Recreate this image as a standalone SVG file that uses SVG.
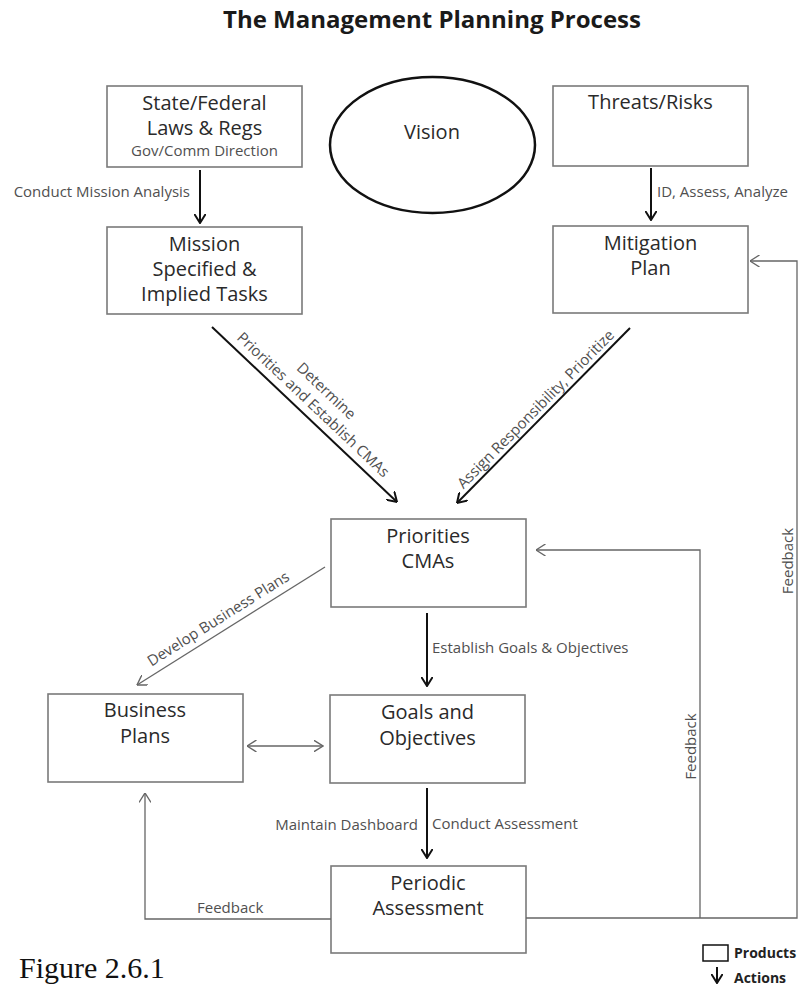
<svg xmlns="http://www.w3.org/2000/svg" width="799" height="986" viewBox="0 0 799 986">
<style>
.box{fill:#fff;stroke:#7a7a7a;stroke-width:1.6}
.bt{font-family:"Open Sans","Noto Sans",sans-serif;font-size:20px;fill:#2a2a2a;text-anchor:middle}
.lb{font-family:"Open Sans","Noto Sans",sans-serif;font-size:15px;fill:#505050}
.main{fill:none;stroke:#111;stroke-width:2;marker-end:url(#ah)}
.thin{fill:none;stroke:#666;stroke-width:1.3}
</style>
<defs>
<marker id="ah" viewBox="0 0 10 12" refX="9.5" refY="6" markerWidth="10" markerHeight="12" markerUnits="userSpaceOnUse" orient="auto">
<path d="M0,0 L9.5,6 L0,12" fill="none" stroke="#111" stroke-width="2"/>
</marker>
<marker id="ag" viewBox="0 0 10 12" refX="9.5" refY="6" markerWidth="10" markerHeight="12" markerUnits="userSpaceOnUse" orient="auto-start-reverse">
<path d="M0,0 L9.5,6 L0,12" fill="none" stroke="#666" stroke-width="1.4"/>
</marker>
</defs>
<rect width="799" height="986" fill="#fff"/>
<text x="432" y="28" font-family="'Open Sans','Noto Sans',sans-serif" font-size="24" font-weight="bold" fill="#1a1a1a" text-anchor="middle">The Management Planning Process</text>

<g id="state">
<rect class="box" x="107" y="86" width="195" height="81"/>
<text class="bt" x="204.5" y="110">State/Federal</text>
<text class="bt" x="204.5" y="135">Laws &amp; Regs</text>
<text class="lb" x="204.5" y="156" text-anchor="middle" font-size="15.5">Gov/Comm Direction</text>
</g>
<g id="vision">
<ellipse cx="432.5" cy="145" rx="102.5" ry="68" fill="none" stroke="#111" stroke-width="2.5"/>
<text class="bt" x="432" y="139">Vision</text>
</g>
<g id="threats">
<rect class="box" x="553" y="86" width="195" height="80"/>
<text class="bt" x="650.5" y="109">Threats/Risks</text>
</g>
<g id="mission">
<rect class="box" x="107" y="227" width="195" height="87"/>
<text class="bt" x="204.5" y="251">Mission</text>
<text class="bt" x="204.5" y="276">Specified &amp;</text>
<text class="bt" x="204.5" y="301">Implied Tasks</text>
</g>
<g id="mitigation">
<rect class="box" x="553" y="226" width="195" height="87"/>
<text class="bt" x="650.5" y="250">Mitigation</text>
<text class="bt" x="650.5" y="275">Plan</text>
</g>
<g id="priorities">
<rect class="box" x="331" y="519" width="195" height="88"/>
<text class="bt" x="428" y="543">Priorities</text>
<text class="bt" x="428" y="568">CMAs</text>
</g>
<g id="business">
<rect class="box" x="48" y="694" width="195" height="88"/>
<text class="bt" x="145" y="717">Business</text>
<text class="bt" x="145" y="743">Plans</text>
</g>
<g id="goals">
<rect class="box" x="330" y="695" width="195" height="88"/>
<text class="bt" x="427.5" y="719">Goals and</text>
<text class="bt" x="427.5" y="745">Objectives</text>
</g>
<g id="periodic">
<rect class="box" x="331" y="866" width="195" height="87"/>
<text class="bt" x="428" y="890">Periodic</text>
<text class="bt" x="428" y="915">Assessment</text>
</g>

<g id="connectors">
<line class="main" x1="200" y1="170" x2="200" y2="223"/>
<text class="lb" x="190" y="197" text-anchor="end">Conduct Mission Analysis</text>
<line class="main" x1="651" y1="168" x2="651" y2="220"/>
<text class="lb" x="657" y="197">ID, Assess, Analyze</text>

<line class="main" x1="212" y1="327" x2="397" y2="502"/>
<g transform="translate(212,327) rotate(43.4)">
<text class="lb" x="127" y="-27" text-anchor="middle" font-size="14.5">Determine</text>
<text class="lb" x="127" y="-8" text-anchor="middle" font-size="14.5">Priorities and Establish CMAs</text>
</g>
<line class="main" x1="630" y1="328" x2="457" y2="503"/>
<g transform="translate(457,503) rotate(-45.3)">
<text class="lb" x="122" y="-5" text-anchor="middle" font-size="14.5">Assign Responsibility, Prioritize</text>
</g>

<line class="thin" x1="325" y1="567" x2="137" y2="685" marker-end="url(#ag)"/>
<text class="lb" x="221" y="623" text-anchor="middle" transform="rotate(-32.1 221 623)">Develop Business Plans</text>

<line class="main" x1="427" y1="613" x2="427" y2="686"/>
<text class="lb" x="432" y="653">Establish Goals &amp; Objectives</text>

<line class="thin" x1="247" y1="746" x2="323" y2="746" marker-start="url(#ag)" marker-end="url(#ag)"/>

<line class="main" x1="427" y1="788" x2="427" y2="858"/>
<text class="lb" x="418" y="830" text-anchor="end">Maintain Dashboard</text>
<text class="lb" x="432" y="829">Conduct Assessment</text>

<path class="thin" d="M331,919 H145 V793" marker-end="url(#ag)"/>
<text class="lb" x="197" y="913">Feedback</text>

<path class="thin" d="M526,918 H797 V261 H750" marker-end="url(#ag)"/>
<path class="thin" d="M700,918 V550 H536" marker-end="url(#ag)"/>
<text class="lb" font-size="13.5" text-anchor="middle" transform="translate(696,746.5) rotate(-90)">Feedback</text>
<text class="lb" font-size="13.5" text-anchor="middle" transform="translate(793,561) rotate(-90)">Feedback</text>
</g>

<g id="legend">
<rect x="703" y="945" width="25" height="16" fill="#fff" stroke="#111" stroke-width="1.5"/>
<text x="734" y="958" font-family="'Open Sans','Noto Sans',sans-serif" font-size="14" font-weight="bold" fill="#222">Products</text>
<line class="main" x1="717" y1="967" x2="717" y2="983"/>
<text x="734" y="983" font-family="'Open Sans','Noto Sans',sans-serif" font-size="14" font-weight="bold" fill="#222">Actions</text>
</g>
<text x="19" y="978" font-family="'Liberation Serif','Times New Roman',serif" font-size="30" fill="#111">Figure 2.6.1</text>
</svg>
